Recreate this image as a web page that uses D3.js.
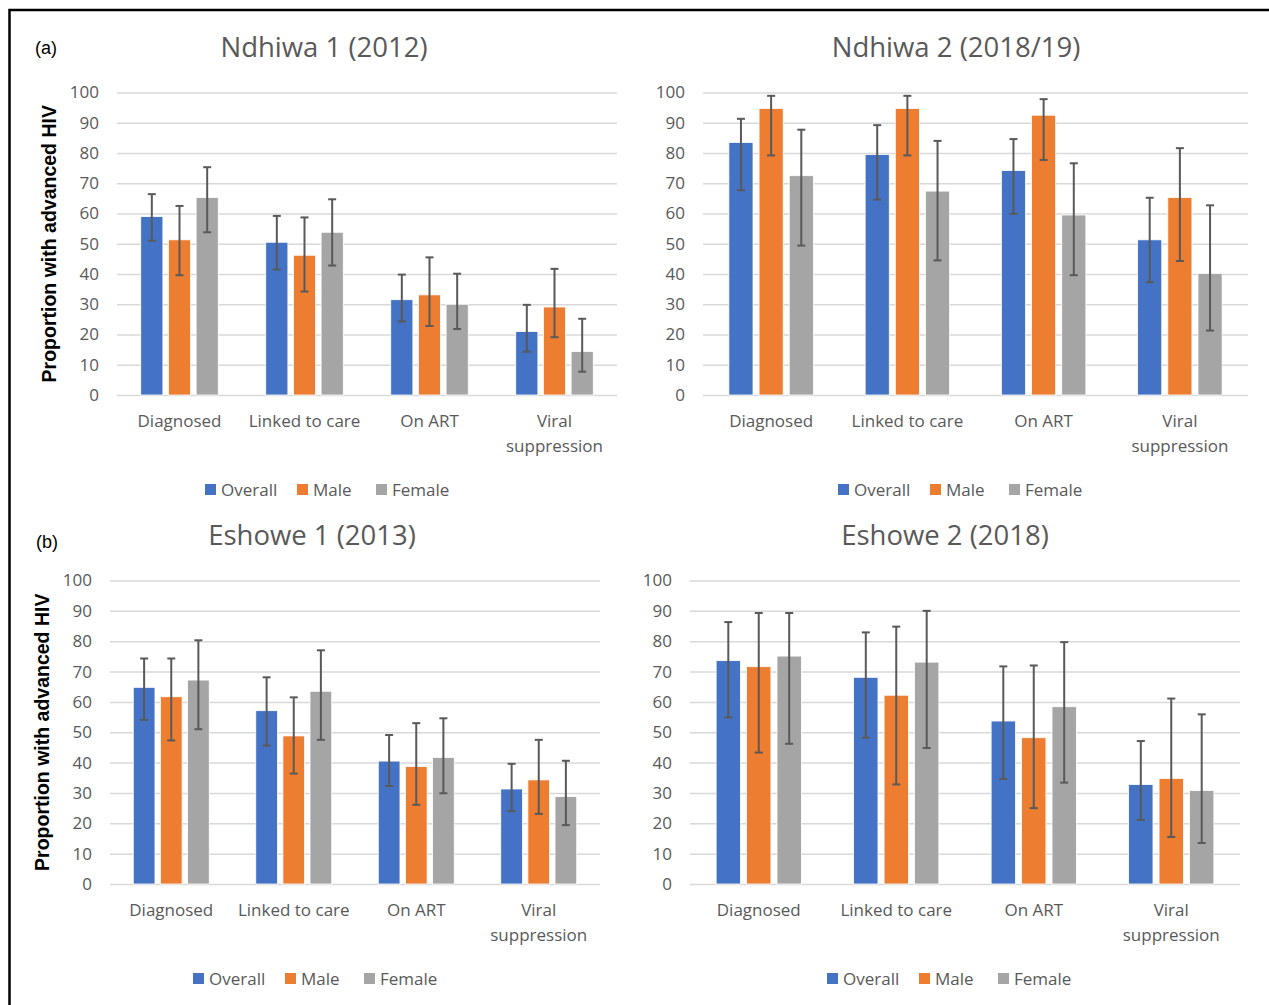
<!DOCTYPE html>
<html>
<head>
<meta charset="utf-8">
<script src="https://cdn.jsdelivr.net/npm/d3@7"></script>
<style>
	body { margin: 0; background: #fff; }
	svg { display: block; }
	.tick text { font-family: "Open Sans", sans-serif; fill: #595959; }
</style>
</head>
<body>
<div id="chart"></div>
<script>
var categories = ["Diagnosed", "Linked to care", "On ART", "Viral\nsuppression"];
var seriesNames = ["Overall", "Male", "Female"];
var seriesColors = ["#4472C4", "#ED7D31", "#A5A5A5"];
var yTicks = [0, 10, 20, 30, 40, 50, 60, 70, 80, 90, 100];

// Ndhiwa 1 (2012)
var ndhiwa1Overall = [59.0, 50.5, 31.5, 21.0];
var ndhiwa1OverallLo = [51.0, 41.5, 24.3, 14.3];
var ndhiwa1OverallHi = [66.4, 59.2, 39.8, 29.8];
var ndhiwa1Male = [51.3, 46.2, 33.1, 29.1];
var ndhiwa1MaleLo = [39.6, 34.2, 22.8, 19.1];
var ndhiwa1MaleHi = [62.5, 58.7, 45.5, 41.7];
var ndhiwa1Female = [65.3, 53.8, 30.0, 14.4];
var ndhiwa1FemaleLo = [53.8, 42.8, 21.8, 7.7];
var ndhiwa1FemaleHi = [75.3, 64.7, 40.1, 25.2];

// Ndhiwa 2 (2018/19)
var ndhiwa2Overall = [83.5, 79.5, 74.2, 51.3];
var ndhiwa2OverallLo = [67.7, 64.6, 59.9, 37.3];
var ndhiwa2OverallHi = [91.3, 89.2, 84.6, 65.2];
var ndhiwa2Male = [94.7, 94.7, 92.5, 65.3];
var ndhiwa2MaleLo = [79.2, 79.2, 77.7, 44.3];
var ndhiwa2MaleHi = [98.9, 98.9, 97.8, 81.6];
var ndhiwa2Female = [72.5, 67.4, 59.5, 40.2];
var ndhiwa2FemaleLo = [49.4, 44.5, 39.6, 21.3];
var ndhiwa2FemaleHi = [87.7, 84.0, 76.6, 62.7];

// Eshowe 1 (2013)
var eshowe1Overall = [64.8, 57.1, 40.5, 31.3];
var eshowe1OverallLo = [54.1, 45.6, 32.3, 24.0];
var eshowe1OverallHi = [74.3, 68.1, 49.1, 39.6];
var eshowe1Male = [61.7, 48.8, 38.7, 34.3];
var eshowe1MaleLo = [47.3, 36.4, 26.1, 23.1];
var eshowe1MaleHi = [74.3, 61.5, 53.0, 47.5];
var eshowe1Female = [67.2, 63.5, 41.7, 28.8];
var eshowe1FemaleLo = [51.0, 47.5, 29.9, 19.4];
var eshowe1FemaleHi = [80.3, 77.0, 54.6, 40.6];

// Eshowe 2 (2018)
var eshowe2Overall = [73.6, 68.1, 53.7, 32.8];
var eshowe2OverallLo = [54.9, 48.2, 34.6, 21.1];
var eshowe2OverallHi = [86.3, 82.9, 71.7, 47.1];
var eshowe2Male = [71.6, 62.2, 48.2, 34.8];
var eshowe2MaleLo = [43.3, 32.8, 25.0, 15.5];
var eshowe2MaleHi = [89.3, 84.8, 72.0, 61.1];
var eshowe2Female = [75.1, 73.1, 58.4, 30.8];
var eshowe2FemaleLo = [46.2, 44.8, 33.4, 13.5];
var eshowe2FemaleHi = [89.3, 90.0, 79.7, 55.9];

var W = 1269, H = 1005;
var svg = d3.select("#chart").append("svg").attr("width", W).attr("height", H);

// outer frame of the figure
svg.append("rect")
	.attr("x", 9.5).attr("y", 10)
	.attr("width", 1400).attr("height", 1200)
	.attr("fill", "none").attr("stroke", "#000").attr("stroke-width", 2.5);

function panelData(ov, ovLo, ovHi, m, mLo, mHi, f, fLo, fHi){
	var vals = [ov, m, f], lo = [ovLo, mLo, fLo], hi = [ovHi, mHi, fHi];
	return categories.map(function(c, i){
		return {
			cat: c,
			bars: seriesNames.map(function(s, j){
				return {series: s, color: seriesColors[j], v: vals[j][i], lo: lo[j][i], hi: hi[j][i]};
			})
		};
	});
}

function buildPanel(opts){
	var data = opts.data;
	var g = svg.append("g");

	var x0 = d3.scaleBand().domain(categories).range([opts.left, opts.right]);
	var cw = x0.bandwidth();
	var x1 = d3.scaleBand().domain(seriesNames).range([cw * 0.19, cw * 0.81]).paddingInner(0.2);
	var y = d3.scaleLinear().domain([0, 100]).range([opts.bottom, opts.top]);

	// gridlines
	g.append("g")
		.attr("transform", "translate(" + opts.left + ",0)")
		.call(d3.axisLeft(y).tickValues(yTicks).tickSize(-(opts.right - opts.left)).tickFormat(""))
		.call(function(a){ a.select(".domain").remove(); })
		.selectAll("line").attr("stroke", "#D9D9D9").attr("stroke-width", 1.5);

	// y tick labels
	g.append("g")
		.attr("transform", "translate(" + (opts.left - 10) + ",0)")
		.call(d3.axisLeft(y).tickValues(yTicks).tickSize(0).tickPadding(8))
		.call(function(a){ a.select(".domain").remove(); })
		.selectAll("text").attr("font-size", 17);

	// x category labels
	var xa = g.append("g")
		.attr("transform", "translate(0," + opts.bottom + ")")
		.call(d3.axisBottom(x0).tickSize(0).tickFormat(""));
	xa.select(".domain").remove();
	xa.selectAll(".tick").each(function(d){
		var lines = d.split("\n");
		var t = d3.select(this).append("text")
			.attr("text-anchor", "middle")
			.attr("font-size", 17);
		lines.forEach(function(l, k){
			t.append("tspan").attr("x", 0).attr("y", 32 + k * 25).text(l);
		});
	});

	var grp = g.selectAll(".grp").data(data).enter().append("g")
		.attr("transform", function(d){ return "translate(" + x0(d.cat) + ",0)"; });

	grp.selectAll("rect").data(function(d){ return d.bars; }).enter().append("rect")
		.attr("x", function(d){ return x1(d.series); })
		.attr("width", x1.bandwidth())
		.attr("y", function(d){ return y(d.v); })
		.attr("height", function(d){ return y(0) - y(d.v); })
		.attr("fill", function(d){ return d.color; })
		.attr("stroke", "#fff").attr("stroke-width", 0.8);

	// error bars
	var eb = grp.selectAll(".err").data(function(d){ return d.bars; }).enter().append("g")
		.attr("class", "err")
		.attr("stroke", "#595959").attr("stroke-width", 2);
	var cx = function(d){ return x1(d.series) + x1.bandwidth() / 2; };
	eb.append("line")
		.attr("x1", cx).attr("x2", cx)
		.attr("y1", function(d){ return y(d.lo); })
		.attr("y2", function(d){ return y(d.hi); });
	["lo", "hi"].forEach(function(k){
		eb.append("line")
			.attr("x1", function(d){ return cx(d) - 4; })
			.attr("x2", function(d){ return cx(d) + 4; })
			.attr("y1", function(d){ return y(d[k]); })
			.attr("y2", function(d){ return y(d[k]); });
	});

	// title
	svg.append("text")
		.attr("x", opts.titleX).attr("y", opts.titleY)
		.attr("text-anchor", "middle")
		.attr("font-family", "'Open Sans', sans-serif")
		.attr("font-size", 27.5)
		.attr("fill", "#595959")
		.text(opts.title);

	// y axis title
	if(opts.yTitleX){
		svg.append("text")
			.attr("transform", "translate(" + opts.yTitleX + "," + ((opts.top + opts.bottom) / 2) + ") rotate(-90)")
			.attr("text-anchor", "middle")
			.attr("font-family", "'Liberation Sans', Arial, sans-serif")
			.attr("font-weight", "bold")
			.attr("font-size", 19.5)
			.attr("fill", "#000")
			.text("Proportion with advanced HIV");
	}

	// legend
	var lg = svg.append("g").attr("transform", "translate(" + opts.legendX + "," + opts.legendY + ")");
	var offs = [0, 92, 171];
	seriesNames.forEach(function(s, j){
		lg.append("rect")
			.attr("x", offs[j]).attr("y", -6)
			.attr("width", 11).attr("height", 11)
			.attr("fill", seriesColors[j]);
		lg.append("text")
			.attr("x", offs[j] + 16).attr("y", 6)
			.attr("font-family", "'Open Sans', sans-serif")
			.attr("font-size", 17)
			.attr("fill", "#595959")
			.text(s);
	});
}

buildPanel({
	data: panelData(ndhiwa1Overall, ndhiwa1OverallLo, ndhiwa1OverallHi, ndhiwa1Male, ndhiwa1MaleLo, ndhiwa1MaleHi, ndhiwa1Female, ndhiwa1FemaleLo, ndhiwa1FemaleHi),
	left: 117, right: 617, top: 92.5, bottom: 395,
	title: "Ndhiwa 1 (2012)", titleX: 324, titleY: 57,
	yTitleX: 56, legendX: 205, legendY: 490
});
buildPanel({
	data: panelData(ndhiwa2Overall, ndhiwa2OverallLo, ndhiwa2OverallHi, ndhiwa2Male, ndhiwa2MaleLo, ndhiwa2MaleHi, ndhiwa2Female, ndhiwa2FemaleLo, ndhiwa2FemaleHi),
	left: 703, right: 1248, top: 92.5, bottom: 395,
	title: "Ndhiwa 2 (2018/19)", titleX: 956, titleY: 57,
	legendX: 838, legendY: 490
});
buildPanel({
	data: panelData(eshowe1Overall, eshowe1OverallLo, eshowe1OverallHi, eshowe1Male, eshowe1MaleLo, eshowe1MaleHi, eshowe1Female, eshowe1FemaleLo, eshowe1FemaleHi),
	left: 110, right: 600, top: 580.5, bottom: 884,
	title: "Eshowe 1 (2013)", titleX: 312, titleY: 545,
	yTitleX: 49, legendX: 193, legendY: 979
});
buildPanel({
	data: panelData(eshowe2Overall, eshowe2OverallLo, eshowe2OverallHi, eshowe2Male, eshowe2MaleLo, eshowe2MaleHi, eshowe2Female, eshowe2FemaleLo, eshowe2FemaleHi),
	left: 690, right: 1240, top: 580.5, bottom: 884,
	title: "Eshowe 2 (2018)", titleX: 945, titleY: 545,
	legendX: 827, legendY: 979
});

// panel letters
svg.append("text").attr("x", 35).attr("y", 54)
	.attr("font-family", "'Liberation Sans', Arial, sans-serif").attr("font-size", 18).attr("fill", "#000")
	.text("(a)");
svg.append("text").attr("x", 36).attr("y", 548)
	.attr("font-family", "'Liberation Sans', Arial, sans-serif").attr("font-size", 18).attr("fill", "#000")
	.text("(b)");
</script>
</body>
</html>
